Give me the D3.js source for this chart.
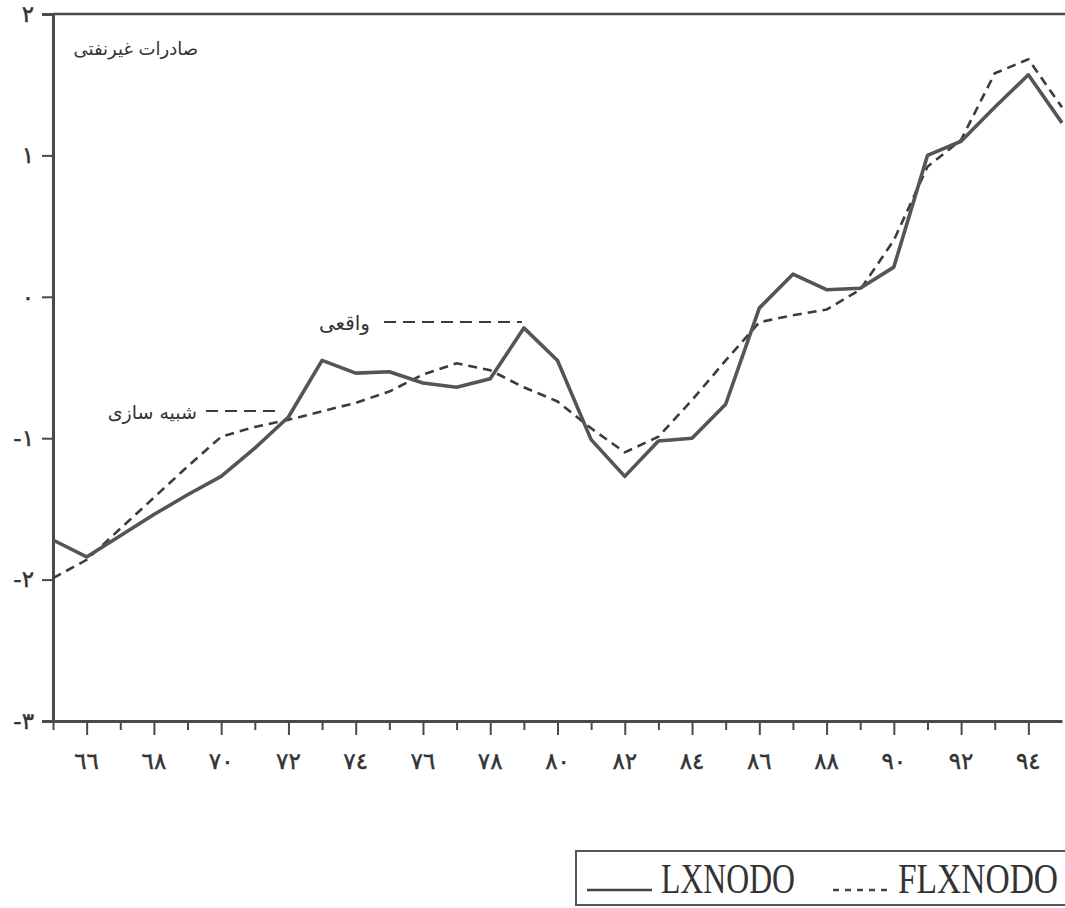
<!DOCTYPE html>
<html>
<head>
<meta charset="utf-8">
<script src="https://cdn.jsdelivr.net/npm/d3@7"></script>
<style>
body { margin: 0; background: #fff; }
svg { display: block; }
</style>
</head>
<body>
<div id="chart"></div>
<script>

// global variables
var svg_w = 1065;
var svg_h = 908;
var ink = "#4a4a4a";

// datos (سال ۶۵ تا ۹۵)
var years = [65, 66, 67, 68, 69, 70, 71, 72, 73, 74, 75, 76, 77, 78, 79, 80,
	81, 82, 83, 84, 85, 86, 87, 88, 89, 90, 91, 92, 93, 94, 95];
var lxnodo = [-1.72, -1.84, -1.69, -1.54, -1.40, -1.27, -1.07, -0.85, -0.45, -0.54,
	-0.53, -0.61, -0.64, -0.58, -0.22, -0.45, -1.01, -1.27, -1.02, -1.00,
	-0.76, -0.08, 0.16, 0.05, 0.06, 0.21, 1.00, 1.10, 1.34, 1.57, 1.23];
var flxnodo = [-1.99, -1.86, -1.64, -1.42, -1.20, -0.99, -0.92, -0.87, -0.81, -0.75,
	-0.67, -0.55, -0.47, -0.52, -0.64, -0.74, -0.93, -1.10, -0.99, -0.73,
	-0.45, -0.18, -0.13, -0.09, 0.05, 0.40, 0.92, 1.11, 1.58, 1.68, 1.34];

var x_ticks = [66, 68, 70, 72, 74, 76, 78, 80, 82, 84, 86, 88, 90, 92, 94];
var x_tick_labels = ["٦٦", "٦٨", "٧٠", "٧٢", "٧٤", "٧٦", "٧٨", "٨٠", "٨٢", "٨٤", "٨٦", "٨٨", "٩٠", "٩٢", "٩٤"];
var y_ticks = [-3, -2, -1, 0, 1, 2];
var y_tick_labels = ["-٣", "-٢", "-١", "٠", "١", "٢"];

var title = "صادرات غیرنفتی";
var label_real = "واقعی";
var label_sim = "شبیه سازی";
var series_names = ["LXNODO", "FLXNODO"];

// svg
var svg = d3.select("#chart")
	.append("svg")
	.attr("width", svg_w)
	.attr("height", svg_h);

// escalas
var x_scale = d3.scaleLinear()
	.domain([65, 95])
	.range([53, 1062]);

var y_scale = d3.scaleLinear()
	.domain([-3, 2])
	.range([721, 14]);

// marco de arriba
svg.append("line")
	.attr("x1", x_scale(65)).attr("x2", svg_w + 5)
	.attr("y1", y_scale(2)).attr("y2", y_scale(2))
	.attr("stroke", ink)
	.attr("stroke-width", 2.5);

// eje Y
var y_axis = d3.axisLeft(y_scale)
	.tickValues(y_ticks)
	.tickSize(11)
	.tickPadding(8)
	.tickFormat(function(d, i) { return y_tick_labels[i]; });

var gy = svg.append("g")
	.attr("transform", "translate(" + x_scale(65) + ",0)")
	.call(y_axis);
gy.select(".domain").attr("stroke", ink).attr("stroke-width", 3);
gy.selectAll(".tick line").attr("stroke", ink).attr("stroke-width", 2);
gy.selectAll(".tick text")
	.attr("font-family", "DejaVu Sans")
	.attr("font-size", 23)
	.attr("fill", "#333")
	.attr("stroke", "#333")
	.attr("stroke-width", 0.5)
	.attr("direction", "ltr");

// eje X (ticks de cada año)
var x_axis = d3.axisBottom(x_scale)
	.tickValues(d3.range(65, 95))
	.tickSize(0)
	.tickFormat("");

var gx = svg.append("g")
	.attr("transform", "translate(0," + y_scale(-3) + ")")
	.call(x_axis);
gx.select(".domain").attr("stroke", ink).attr("stroke-width", 3);
gx.selectAll(".tick line")
	.attr("stroke", ink)
	.attr("stroke-width", 2)
	.attr("y2", function(d) { return d % 2 == 0 ? 14 : 9; });

gx.selectAll(".lbl")
	.data(x_ticks)
	.enter()
	.append("text")
	.attr("class", "lbl")
	.attr("x", function(d) { return x_scale(d); })
	.attr("y", 48)
	.attr("text-anchor", "middle")
	.attr("font-family", "DejaVu Sans")
	.attr("font-size", 23)
	.attr("fill", "#333")
	.attr("stroke", "#333")
	.attr("stroke-width", 0.5)
	.text(function(d, i) { return x_tick_labels[i]; });

// lineas
var line_real = d3.line()
	.x(function(d, i) { return x_scale(years[i]); })
	.y(function(d) { return y_scale(d); });

svg.append("path")
	.datum(flxnodo)
	.attr("d", line_real)
	.attr("fill", "none")
	.attr("stroke", "#3c3c3c")
	.attr("stroke-width", 2.6)
	.attr("stroke-dasharray", "9,6");

svg.append("path")
	.datum(lxnodo)
	.attr("d", line_real)
	.attr("fill", "none")
	.attr("stroke", "#555")
	.attr("stroke-width", 3.6)
	.attr("stroke-linejoin", "round");

// textos
svg.append("text")
	.attr("x", 198).attr("y", 55)
	.attr("text-anchor", "end")
	.attr("font-family", "DejaVu Sans")
	.attr("font-size", 18)
	.attr("fill", "#333")
	.text(title);

svg.append("text")
	.attr("x", 370).attr("y", 330)
	.attr("text-anchor", "end")
	.attr("font-family", "DejaVu Sans")
	.attr("font-size", 20)
	.attr("fill", "#333")
	.text(label_real);
svg.append("line")
	.attr("x1", 384).attr("x2", 522)
	.attr("y1", 322).attr("y2", 322)
	.attr("stroke", "#3c3c3c")
	.attr("stroke-width", 2)
	.attr("stroke-dasharray", "12,7");

svg.append("text")
	.attr("x", 197).attr("y", 419)
	.attr("text-anchor", "end")
	.attr("font-family", "DejaVu Sans")
	.attr("font-size", 19)
	.attr("fill", "#333")
	.text(label_sim);
svg.append("line")
	.attr("x1", 206).attr("x2", 278)
	.attr("y1", 411).attr("y2", 411)
	.attr("stroke", "#3c3c3c")
	.attr("stroke-width", 2)
	.attr("stroke-dasharray", "12,7");

// leyenda
var legend = svg.append("g");
legend.append("rect")
	.attr("x", 576).attr("y", 851)
	.attr("width", 520).attr("height", 54)
	.attr("fill", "none")
	.attr("stroke", "#555")
	.attr("stroke-width", 2);

legend.append("line")
	.attr("x1", 587).attr("x2", 652)
	.attr("y1", 890).attr("y2", 890)
	.attr("stroke", "#444")
	.attr("stroke-width", 2.5);
legend.append("text")
	.attr("transform", "translate(661,893) scale(1,1.27)")
	.attr("font-family", "Liberation Serif")
	.attr("font-size", 33)
	.attr("textLength", 134)
	.attr("lengthAdjust", "spacingAndGlyphs")
	.attr("fill", "#333")
	.text(series_names[0]);

legend.append("line")
	.attr("x1", 833).attr("x2", 893)
	.attr("y1", 890).attr("y2", 890)
	.attr("stroke", "#444")
	.attr("stroke-width", 2.5)
	.attr("stroke-dasharray", "6,6");
legend.append("text")
	.attr("transform", "translate(898,893) scale(1,1.27)")
	.attr("font-family", "Liberation Serif")
	.attr("font-size", 33)
	.attr("textLength", 160)
	.attr("lengthAdjust", "spacingAndGlyphs")
	.attr("fill", "#333")
	.text(series_names[1]);

</script>
</body>
</html>
